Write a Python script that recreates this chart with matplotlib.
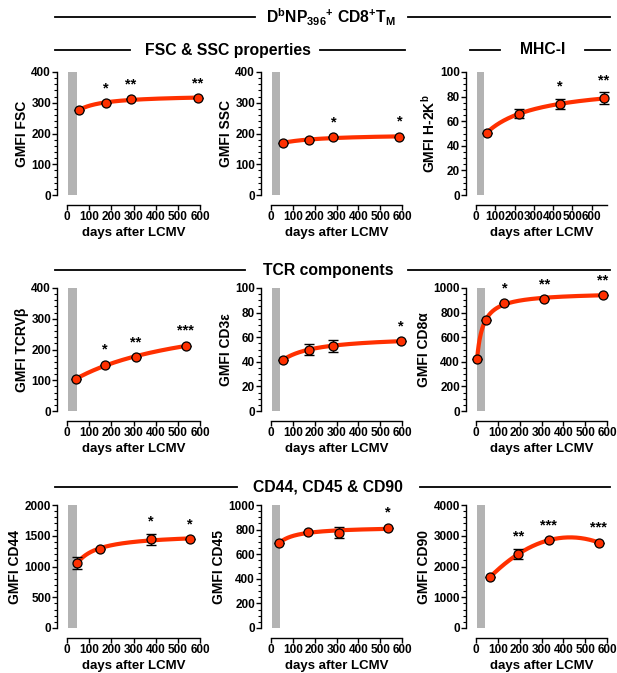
import numpy as np
import matplotlib
matplotlib.use('Agg')
import matplotlib.pyplot as plt
from matplotlib.ticker import MultipleLocator, AutoMinorLocator
from matplotlib.lines import Line2D

plt.rcParams['font.family'] = ['Liberation Sans', 'DejaVu Sans']
plt.rcParams['font.weight'] = 'bold'
plt.rcParams['mathtext.fontset'] = 'custom'
plt.rcParams['mathtext.rm'] = 'Liberation Sans:bold'
plt.rcParams['mathtext.it'] = 'Liberation Sans:bold'
plt.rcParams['mathtext.bf'] = 'Liberation Sans:bold'

# ---- data (days after LCMV, GMFI, SEM, significance) ----
fsc_days = [53, 176, 287, 591]
fsc_gmfi = [276, 300, 311, 316]
fsc_sem = [0, 0, 0, 0]
fsc_stars = ['', '*', '**', '**']

ssc_days = [56, 173, 286, 588]
ssc_gmfi = [170, 179, 187, 190]
ssc_sem = [0, 0, 0, 0]
ssc_stars = ['', '', '*', '*']

h2k_days = [55, 222, 436, 662]
h2k_gmfi = [50.5, 66, 74, 78.5]
h2k_sem = [0, 3.8, 4.3, 4.9]
h2k_stars = ['', '', '*', '**']

tcrvb_days = [39, 171, 311, 536]
tcrvb_gmfi = [103, 151, 174, 213]
tcrvb_sem = [0, 0, 0, 0]
tcrvb_stars = ['', '*', '**', '***']

cd3e_days = [54, 173, 285, 594]
cd3e_gmfi = [41.4, 50, 53, 56.8]
cd3e_sem = [0, 4.3, 4.7, 0]
cd3e_stars = ['', '', '', '*']

cd8a_days = [5, 46, 130, 313, 580]
cd8a_gmfi = [425, 740, 878, 912, 942]
cd8a_sem = [0, 0, 0, 0, 0]
cd8a_stars = ['', '', '*', '**', '**']

cd44_days = [46, 149, 380, 556]
cd44_gmfi = [1054, 1292, 1443, 1443]
cd44_sem = [100, 0, 90, 0]
cd44_stars = ['', '', '*', '*']

cd45_days = [37, 168, 310, 537]
cd45_gmfi = [689, 781, 776, 816]
cd45_sem = [0, 0, 45, 0]
cd45_stars = ['', '', '', '*']

cd90_days = [63, 194, 334, 563]
cd90_gmfi = [1646, 2409, 2856, 2779]
cd90_sem = [0, 150, 0, 0]
cd90_stars = ['', '**', '***', '***']

effector_phase = (6, 43)  # grey bar, days

RED = '#ff3000'
GREY = '#b3b3b3'


def fit_line(x, y, shape):
    # GraphPad-like fit: hyperbola (saturation) or 2nd order polynomial
    x = np.asarray(x, float)
    y = np.asarray(y, float)
    xs = np.linspace(x.min(), x.max(), 300)
    if shape == 'quad':
        return xs, np.polyval(np.polyfit(x, y, 2), xs)
    best = None
    for K in np.logspace(0, 3.5, 400):
        A = np.column_stack([np.ones_like(x), x / (K + x)])
        coef = np.linalg.lstsq(A, y, rcond=None)[0]
        sse = np.sum((A @ coef - y) ** 2)
        if best is None or sse < best[0]:
            best = (sse, K, coef)
    _, K, coef = best
    return xs, coef[0] + coef[1] * xs / (K + xs)


fig = plt.figure(figsize=(6.17, 6.73), dpi=100)
W, H = 617.0, 673.0

col_left = [67, 271, 476]
col_w = [133, 131, 131]
row_top = [72, 288, 505]
ax_h = 123


def panel(r, c, days, gmfi, sem, stars, ylabel, ymax, ystep, nminor,
          xmax=600, shape='hyper'):
    ax = fig.add_axes([col_left[c] / W, 1 - (row_top[r] + ax_h) / H,
                       col_w[c] / W, ax_h / H])
    ax.axvspan(*effector_phase, color=GREY, lw=0, zorder=1)
    xs, ys = fit_line(days, gmfi, shape)
    ax.plot(xs, ys, color=RED, lw=3, zorder=2, clip_on=False,
            solid_capstyle='round')
    ax.errorbar(days, gmfi, yerr=sem, fmt='none', ecolor='k', elinewidth=1,
                capsize=3.5, capthick=1, zorder=3, clip_on=False)
    ax.plot(days, gmfi, 'o', ms=6.5, mfc=RED, mec='k', mew=0.9, zorder=4,
            clip_on=False)
    for d, g, s, st in zip(days, gmfi, sem, stars):
        if st:
            ax.text(d, g + 0.5 * s + 0.12 * ymax, st, ha='center', va='center',
                    fontsize=10.5, fontweight='bold', clip_on=False)
    ax.set_xlim(0, xmax)
    ax.set_ylim(0, ymax)
    ax.set_xticks(range(0, 601, 100))
    ax.yaxis.set_major_locator(MultipleLocator(ystep))
    ax.yaxis.set_minor_locator(AutoMinorLocator(nminor))
    for side in ['top', 'right']:
        ax.spines[side].set_visible(False)
    ax.spines['left'].set_position(('outward', 7))
    ax.spines['bottom'].set_position(('outward', 7))
    ax.spines['left'].set_linewidth(1)
    ax.spines['bottom'].set_linewidth(1)
    ax.tick_params(axis='both', which='major', direction='out', length=3.5,
                   width=1, labelsize=8.5, pad=1)
    ax.tick_params(axis='y', which='minor', direction='out', length=2,
                   width=0.8)
    ax.set_ylabel(ylabel, fontsize=10, fontweight='bold', labelpad=1.5)
    ax.set_xlabel('days after LCMV', fontsize=9.5, fontweight='bold',
                  labelpad=3)
    return ax


panel(0, 0, fsc_days, fsc_gmfi, fsc_sem, fsc_stars, 'GMFI FSC', 400, 100, 5)
panel(0, 1, ssc_days, ssc_gmfi, ssc_sem, ssc_stars, 'GMFI SSC', 400, 100, 5)
panel(0, 2, h2k_days, h2k_gmfi, h2k_sem, h2k_stars, r'GMFI H-2K$^{b}$',
      100, 20, 4, xmax=680)
panel(1, 0, tcrvb_days, tcrvb_gmfi, tcrvb_sem, tcrvb_stars, 'GMFI TCRVβ',
      400, 100, 5)
panel(1, 1, cd3e_days, cd3e_gmfi, cd3e_sem, cd3e_stars, 'GMFI CD3ε',
      100, 20, 4)
panel(1, 2, cd8a_days, cd8a_gmfi, cd8a_sem, cd8a_stars, 'GMFI CD8α',
      1000, 200, 4)
panel(2, 0, cd44_days, cd44_gmfi, cd44_sem, cd44_stars, 'GMFI CD44',
      2000, 500, 5)
panel(2, 1, cd45_days, cd45_gmfi, cd45_sem, cd45_stars, 'GMFI CD45',
      1000, 200, 4)
panel(2, 2, cd90_days, cd90_gmfi, cd90_sem, cd90_stars, 'GMFI CD90',
      4000, 1000, 5, shape='quad')


def header(y, text, xc, segs):
    fig.text(xc / W, 1 - y / H, text, ha='center', va='center',
             fontsize=11.3, fontweight='bold')
    for x0, x1 in segs:
        fig.add_artist(Line2D([x0 / W, x1 / W], [1 - y / H, 1 - y / H],
                              color='k', lw=1.3))


header(17, r'D$^{b}$NP$_{396}$$^{+}$ CD8$^{+}$T$_{M}$', 331,
       [(55, 255), (408, 610)])
header(50, 'FSC & SSC properties', 228, [(55, 130), (320, 405)])
header(50, 'MHC-I', 543, [(470, 500), (585, 610)])
header(270, 'TCR components', 328, [(55, 245), (408, 610)])
header(487, 'CD44, CD45 & CD90', 328, [(55, 237), (420, 610)])

fig.savefig('out.png', dpi=100)
